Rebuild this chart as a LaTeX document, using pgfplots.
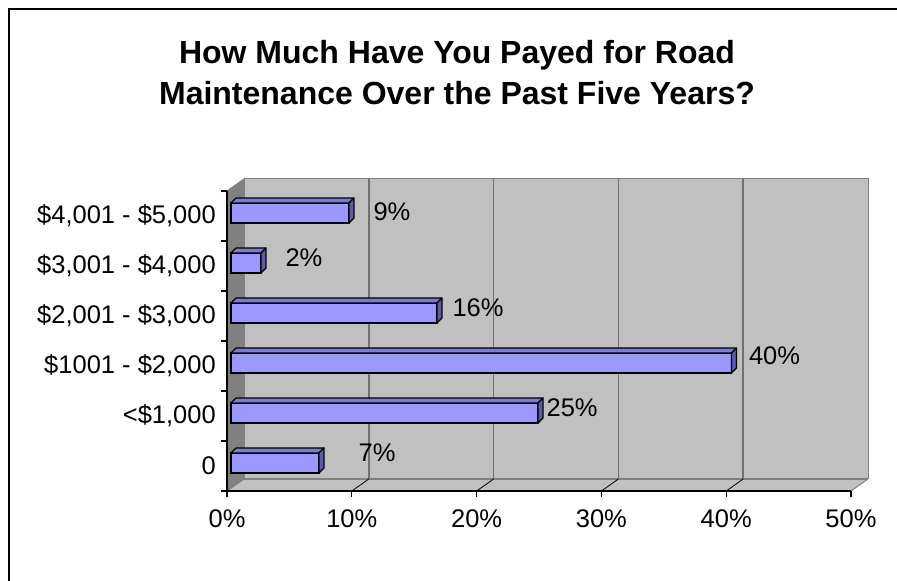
\documentclass[border=0pt]{standalone}
\usepackage{pgfplots}
\usepackage{pgfplotstable}
\pgfplotsset{compat=1.18}
\usepackage{fontspec}
\setmainfont{Liberation Sans}
\pgfkeys{/pgf/number format/assume math mode=true}
\definecolor{barfront}{HTML}{9999FF}
\definecolor{bartop}{HTML}{7B7BD6}
\definecolor{barside}{HTML}{5C5CA3}
\definecolor{wall}{HTML}{C0C0C0}
\definecolor{sidewall}{HTML}{808080}
\definecolor{gridc}{HTML}{707070}
\pgfdeclareplotmark{none3d}{}
\pgfplotstableread{
val cat lbl dx dy
7.05 0 7 39 10
24.6 1 25 8 5
40.1 2 40 17 7
16.5 3 16 15 5
2.4 4 2 24 5
9.45 5 9 24 1
}\data
\begin{document}
\begin{tikzpicture}[x=1pt,y=1pt]
\useasboundingbox (0,0) rectangle (897,581);
\draw[line width=2.5pt] (9,0) -- (9,572) -- (897,572);
\node[font=\fontsize{32}{41}\selectfont\bfseries, align=center, anchor=north, inner sep=0pt] at (457,541) {How Much Have You Payed for Road\\Maintenance Over the Past Five Years?};
\begin{axis}[
  axis on top,
  /pgf/number format/assume math mode=true,
  at={(227pt,90pt)}, anchor=south west,
  scale only axis, width=624pt, height=300pt,
  xmin=0, xmax=50, ymin=-0.5, ymax=5.5,
  enlargelimits=false, clip=false,
  axis x line*=bottom, axis y line*=left,
  axis line style={black, line width=1.2pt},
  tick align=outside, major tick length=6pt,
  tick style={black, line width=1.2pt},
  xtick={0,10,...,50},
  xticklabel={\pgfmathprintnumber{\tick}\%},
  ytick={-0.5,0.5,...,5.5},
  y tick label as interval,
  yticklabels={{0},{<\$1,000},{\$1001 - \$2,000},{\$2,001 - \$3,000},{\$3,001 - \$4,000},{\$4,001 - \$5,000}},
  ticklabel style={font=\fontsize{25.5}{30}\selectfont, black},
  x tick label style={inner sep=0pt, yshift=-12pt},
  y tick label style={inner sep=0pt, xshift=-5pt},
]
  \fill[wall, draw=sidewall, line width=1pt] ([shift={(17pt,12pt)}]rel axis cs:0,0) rectangle ([shift={(17pt,12pt)}]rel axis cs:1,1);
  \fill[wall] (rel axis cs:0,0) -- (rel axis cs:1,0) -- ([shift={(17pt,12pt)}]rel axis cs:1,0) -- ([shift={(17pt,12pt)}]rel axis cs:0,0) -- cycle;
  \draw[sidewall, line width=1pt] (rel axis cs:1,0) -- ([shift={(17pt,12pt)}]rel axis cs:1,0);
  \fill[sidewall, draw=sidewall, line width=1pt] (rel axis cs:0,0) -- (rel axis cs:0,1) -- ([shift={(17pt,12pt)}]rel axis cs:0,1) -- ([shift={(17pt,12pt)}]rel axis cs:0,0) -- cycle;
  \draw[sidewall, line width=2.5pt] ([shift={(17pt,12pt)}]rel axis cs:0,0) -- ([shift={(17pt,12pt)}]rel axis cs:1,0);
  \pgfplotsinvokeforeach{10,20,30,40}{
    \draw[gridc, line width=1.5pt] ([shift={(17pt,12pt)}]axis cs:#1,-0.5) -- ([shift={(17pt,12pt)}]axis cs:#1,5.5);
    \draw[black, line width=0.8pt] (axis cs:#1,-0.5) -- ++(17pt,12pt);
  }
\addplot[xbar, bar width=20pt, bar shift=0pt, fill=barfront, draw=black, line width=1.2pt,
  xshift=4pt, yshift=3pt,
  visualization depends on={\thisrow{lbl} \as \lbl},
  visualization depends on={\thisrow{dx} \as \dx},
  visualization depends on={\thisrow{dy} \as \dy},
  nodes near coords={\pgfmathprintnumber[fixed, precision=0, assume math mode=true]{\lbl}\%},
  every node near coord/.append style={anchor=west, inner sep=0pt, xshift=\dx pt, yshift=\dy pt,
    font=\fontsize{25.5}{30}\selectfont, text=black},
] table[x=val, y=cat] {\data};
\addplot[scatter, only marks, mark=none3d, xshift=4pt, yshift=3pt,
  visualization depends on={\thisrow{val} \as \len},
  scatter/@pre marker code/.code={%
    \filldraw[fill=bartop, draw=black, line width=1.2pt, line join=round] (axis direction cs:-\len,0) ++(0pt,10pt) -- ++(axis direction cs:\len,0) -- ++(5pt,5pt) -- ++(axis direction cs:-\len,0) -- cycle;
    \filldraw[fill=barside, draw=black, line width=1.2pt, line join=round] (0pt,-10pt) -- (0pt,10pt) -- (5pt,15pt) -- (5pt,-5pt) -- cycle;
  },
  scatter/@post marker code/.code={},
] table[x=val, y=cat] {\data};
\end{axis}
\end{tikzpicture}
\end{document}
